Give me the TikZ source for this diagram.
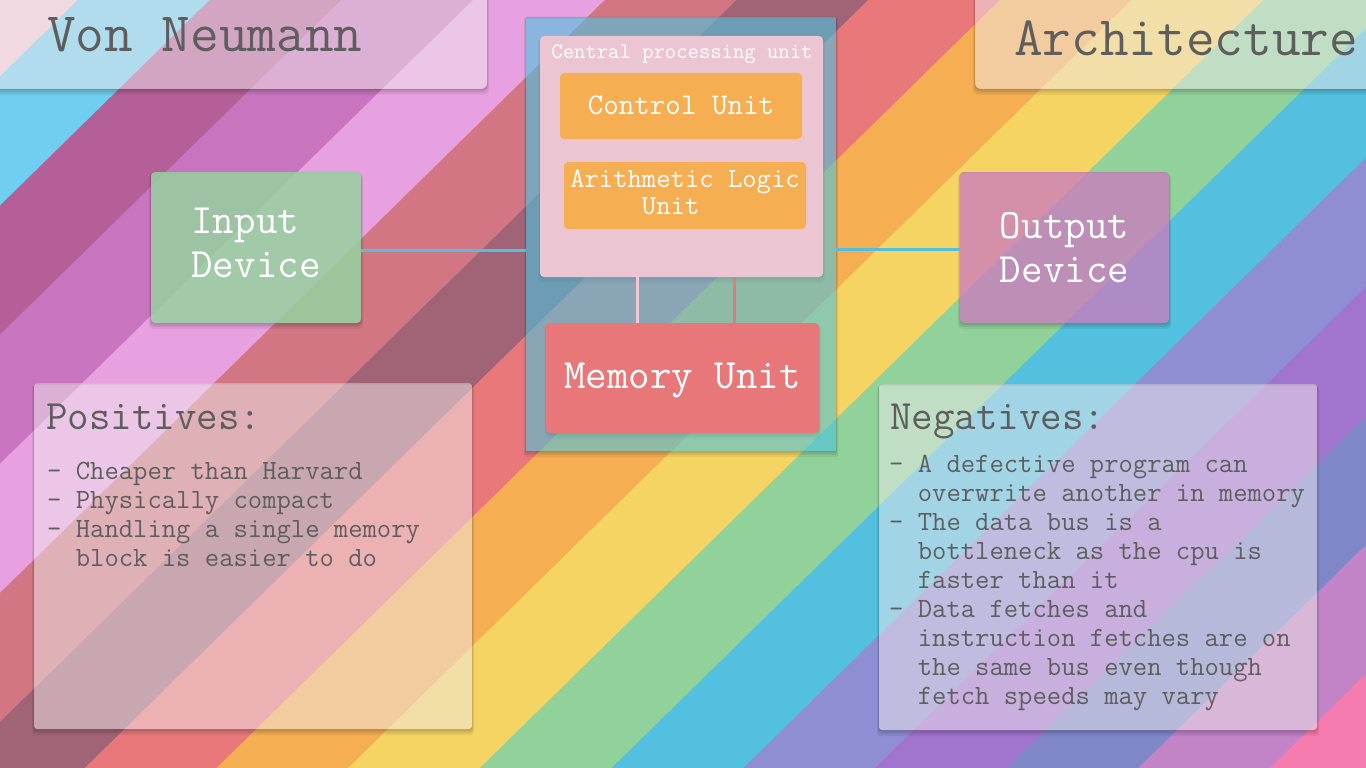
\documentclass[tikz,border=0pt]{standalone}
\usepackage{fontspec}
\usetikzlibrary{calc}
\pgfdeclarelayer{stripes}
\pgfdeclarelayer{shadows}
\pgfsetlayers{stripes,shadows,main}

\definecolor{s0}{HTML}{F0C8D4}
\definecolor{s1}{HTML}{70CEF0}
\definecolor{s2}{HTML}{B55F98}
\definecolor{s3}{HTML}{C874BF}
\definecolor{s4}{HTML}{E8A1E0}
\definecolor{s5}{HTML}{D17682}
\definecolor{s6}{HTML}{A06476}
\definecolor{s7}{HTML}{E8787A}
\definecolor{s8}{HTML}{F5AE52}
\definecolor{s9}{HTML}{F5D463}
\definecolor{s10}{HTML}{91D29B}
\definecolor{s11}{HTML}{52C0DE}
\definecolor{s12}{HTML}{8F8DD4}
\definecolor{s13}{HTML}{A174CE}
\definecolor{s14}{HTML}{7F87C8}
\definecolor{s15}{HTML}{C284C6}
\definecolor{s16}{HTML}{F67CAF}
\definecolor{titlefill}{RGB}{240,235,236}
\definecolor{txtgray}{HTML}{5E5E5E}
\definecolor{cpuouterc}{RGB}{75,195,222}
\definecolor{cpuc}{RGB}{236,197,210}
\definecolor{unitorange}{HTML}{F5AE52}
\definecolor{memred}{HTML}{E8777A}
\definecolor{inputc}{RGB}{150,210,160}
\definecolor{outputc}{RGB}{203,124,191}
\definecolor{buscyan}{HTML}{4FC0E0}
\definecolor{linkpink}{HTML}{F2C6D3}
\definecolor{linkred}{HTML}{E07A80}

% Courier-sized text set in Latin Modern Mono (char width 0.525em vs 0.6em)
\newcommand\cfont[2]{\ttfamily\fontsize{\fpeval{#1*0.609/0.525}}{#2}\selectfont}

\newcommand\boxshadow[2][4pt]{%
  \begin{pgfonlayer}{shadows}
  \foreach \dd/\oo in {1/0.10,2.5/0.08,4/0.06}{%
    \fill[black, fill opacity=\oo, even odd rule, rounded corners=#1]
      ([shift={(-\dd/2,\dd/2)}]#2.north west) rectangle ([shift={(\dd/2,1.5*\dd)}]#2.south east)
      (#2.north west) rectangle (#2.south east);
  }%
  \end{pgfonlayer}}

\begin{document}
\begin{tikzpicture}[x=1pt,y=-1pt,
  panel/.style={draw=none, inner sep=0pt, outer sep=0pt, anchor=north west},
  glassbox/.style={panel, fill=titlefill, fill opacity=0.5, text opacity=1, rounded corners=#1},
  glassbox/.default=5pt,
  titletext/.style={anchor=base west, inner sep=0pt, text=txtgray, font=\cfont{48}{56}},
  headtext/.style={anchor=base west, inner sep=0pt, text=txtgray, font=\cfont{36}{42}},
  bodytext/.style={anchor=north west, inner sep=0pt, align=left, text=txtgray, font=\cfont{24}{29}},
  unitbox/.style={panel, rounded corners=4pt, text=white},
  devicebox/.style={panel, rounded corners=4pt, text=white, text opacity=1, align=left, font=\cfont{36}{44}},
  bus/.style={draw=buscyan, line width=3pt},
  memlink/.style={line width=3pt}]
\useasboundingbox (0,0) rectangle (1366,768);

% background stripes
\begin{pgfonlayer}{stripes}
\begin{scope}
\clip (0,0) rectangle (1366,768);
\foreach \i in {0,...,16}{
  \pgfmathsetmacro\ua{78+131.7*(\i-1)}
  \pgfmathsetmacro\ub{78+131.7*\i+0.6}
  \fill[fill=s\i] (\ua,0) -- (\ub,0) -- (\ub-783.4,768) -- (\ua-783.4,768) -- cycle;
}
\end{scope}
\end{pgfonlayer}

% titles
\node[glassbox=6pt, minimum width=497pt, minimum height=99pt] (vnbox) at (-10,-10) {};
\node[titletext] (vntext) at (47,52) {Von Neumann};
\node[glassbox=6pt, minimum width=401pt, minimum height=99pt] (arbox) at (975,-10) {};
\node[titletext] (artext) at (1014,56) {Architecture};

% CPU
\node[panel, fill=cpuouterc, fill opacity=0.6, minimum width=310pt, minimum height=434pt] (cpuouter) at (526,17) {};
\node[panel, fill=cpuc, rounded corners=4pt, minimum width=283pt, minimum height=241pt] (cpu) at (540,36) {};
\node[anchor=base, inner sep=0pt, text=white, font=\cfont{19}{22}] (cpulabel) at (682,59) {Central processing unit};
\node[unitbox, fill=unitorange, minimum width=242pt, minimum height=66pt, font=\cfont{26}{30}] (cu) at (560,73) {\rule[-4pt]{0pt}{24pt}Control Unit};
\node[unitbox, fill=unitorange, minimum width=242pt, minimum height=67pt, align=left, font=\cfont{24}{27}] (alu) at (564,162) {\rule{0pt}{19pt}Arithmetic Logic\\\hphantom{Arith}Unit\rule[-9pt]{0pt}{9pt}};
\node[unitbox, fill=memred, minimum width=273pt, minimum height=110pt, font=\cfont{36}{40}] (mem) at (546,323) {\rule[-11pt]{0pt}{42pt}Memory Unit};

% devices
\node[devicebox, fill=inputc, fill opacity=0.85, minimum width=210pt, minimum height=151pt] (input) at (151,172) {\rule{0pt}{28pt}Input\\Device\rule[-13pt]{0pt}{13pt}};
\node[devicebox, fill=outputc, fill opacity=0.77, minimum width=209pt, minimum height=151pt] (output) at (960,172) {\rule{0pt}{36pt}Output\\Device\rule[-10pt]{0pt}{10pt}};

% positives / negatives
\node[glassbox=3pt, minimum width=438pt, minimum height=346pt] (posbox) at (34,383) {};
\node[headtext] (poshead) at (46,429) {Positives:};
\node[bodytext] (posbody) at (47,457) {\rule{0pt}{22pt}- Cheaper than Harvard\\- Physically compact\\- Handling a single memory\\\hphantom{xx}block is easier to do};

\node[glassbox=3pt, minimum width=438pt, minimum height=346pt] (negbox) at (879,384) {};
\node[headtext] (neghead) at (890,429) {Negatives:};
\node[bodytext] (negbody) at (889,450) {\rule{0pt}{22pt}- A defective program can\\\hphantom{xx}overwrite another in memory\\- The data bus is a\\\hphantom{xx}bottleneck as the cpu is\\\hphantom{xx}faster than it\\- Data fetches and\\\hphantom{xx}instruction fetches are on\\\hphantom{xx}the same bus even though\\\hphantom{xx}fetch speeds may vary};

% shadows
\boxshadow[6pt]{vnbox}
\boxshadow[6pt]{arbox}
\boxshadow[0pt]{cpuouter}
\boxshadow{cpu}
\boxshadow{cu}
\boxshadow{alu}
\boxshadow{mem}
\boxshadow{input}
\boxshadow{output}
\boxshadow[3pt]{posbox}
\boxshadow[3pt]{negbox}

% connectors
\draw[bus] ([yshift=-2.5pt]input.east) -- ([yshift=-2.5pt]input.east -| cpuouter.west);
\draw[bus] ([yshift=-1.5pt]output.west -| cpuouter.east) -- ([yshift=-1.5pt]output.west);
\draw[memlink, linkpink] ([xshift=-44.5pt]cpu.south) -- ([xshift=-44.5pt]cpu.south |- mem.north);
\draw[memlink, linkred] ([xshift=52.5pt]cpu.south) -- ([xshift=52.5pt]cpu.south |- mem.north);
\end{tikzpicture}
\end{document}
